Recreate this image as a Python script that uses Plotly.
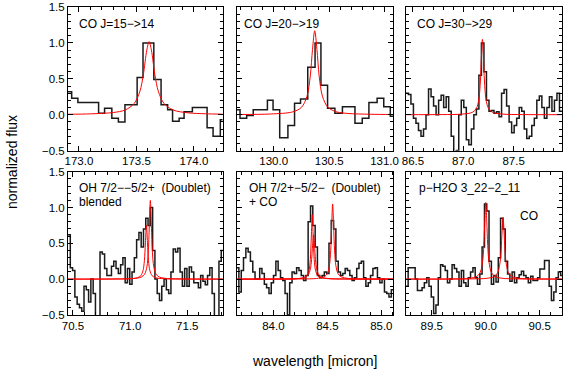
import plotly.graph_objects as go

# ---------------- data ----------------
p1_edges = [172.905, 172.937, 172.991, 173.171, 173.223, 173.286, 173.343, 173.400, 173.506, 173.557,
            173.651, 173.714, 173.771, 173.814, 173.871, 173.914, 173.986, 174.114, 174.166, 174.229, 174.25]
p1_vals = [0.32, 0.23, 0.17, 0.02, 0.09, -0.05, -0.10, 0.14, 0.52, 1.00,
           0.49, 0.14, 0.07, -0.09, -0.05, 0.04, 0.10, -0.18, -0.30, -0.07]
p1_fit_x = [172.905, 173.10, 173.30, 173.40, 173.48, 173.53, 173.56, 173.59, 173.61, 173.63, 173.66,
            173.69, 173.74, 173.82, 173.95, 174.10, 174.25]
p1_fit_y = [0.006, 0.012, 0.031, 0.065, 0.155, 0.327, 0.559, 0.90, 1.02, 0.90, 0.559,
            0.327, 0.155, 0.065, 0.026, 0.013, 0.0075]

p2_edges = [129.665, 129.696, 129.756, 129.815, 129.943, 129.994, 130.054, 130.128, 130.188, 130.242,
            130.307, 130.373, 130.426, 130.486, 130.552, 130.620, 130.733, 130.799, 130.859, 130.933,
            130.993, 131.052, 131.08]
p2_vals = [0.07, -0.05, -0.01, 0.07, 0.20, 0.07, -0.32, -0.15, 0.16, 0.22,
           0.66, 1.00, 0.41, 0.09, 0.02, 0.11, -0.12, -0.05, 0.17, 0.23, 0.11, -0.02]
p2_fit_x = [129.665, 129.97, 130.17, 130.25, 130.30, 130.33, 130.35, 130.37, 130.39, 130.41,
            130.44, 130.49, 130.57, 130.67, 130.87, 131.08]
p2_fit_y = [0.003, 0.01, 0.039, 0.102, 0.255, 0.54, 0.91, 1.17, 0.91, 0.54,
            0.255, 0.102, 0.039, 0.0175, 0.0064, 0.003]

p3_edges = [86.430, 86.455, 86.480, 86.505, 86.530, 86.555, 86.580, 86.605, 86.630, 86.655,
            86.680, 86.705, 86.730, 86.755, 86.780, 86.805, 86.830, 86.855, 86.880, 86.905,
            86.930, 86.955, 86.980, 87.005, 87.030, 87.055, 87.080, 87.105, 87.130, 87.155,
            87.180, 87.205, 87.230, 87.255, 87.280, 87.305, 87.330, 87.355, 87.380, 87.405,
            87.430, 87.455, 87.480, 87.505, 87.530, 87.555, 87.580, 87.605, 87.630, 87.655,
            87.680, 87.705, 87.730, 87.755, 87.780, 87.805, 87.830, 87.855, 87.880, 87.905,
            87.930, 87.955, 87.980]
p3_vals = [0.30, 0.28, 0.15, -0.05, -0.12, -0.22, -0.30, -0.20, 0.00, 0.36,
           0.25, 0.12, 0.00, 0.20, 0.27, 0.10, 0.25, 0.05, -0.30, -0.52,
           -0.50, 0.00, 0.20, 0.10, -0.35, -0.42, -0.20, 0.00, 0.08, 0.55,
           1.00, 0.60, 0.20, 0.05, 0.06, 0.02, 0.04, -0.03, 0.30, 0.35,
           0.12, -0.10, -0.25, -0.15, -0.05, 0.10, 0.05, -0.20, -0.33, -0.30,
           -0.15, -0.05, 0.20, 0.26, 0.10, -0.05, 0.10, 0.25, 0.05, 0.20,
           0.30, 0.05]
p3_fit_x = [86.43, 86.79, 86.99, 87.09, 87.13, 87.155, 87.17, 87.18, 87.19, 87.20, 87.21,
            87.225, 87.25, 87.29, 87.39, 87.59, 87.98]
p3_fit_y = [0.0006, 0.002, 0.0085, 0.033, 0.087, 0.22, 0.47, 0.80, 1.05, 0.80, 0.47,
            0.22, 0.087, 0.033, 0.0085, 0.002, 0.0005]

p4_edges = [70.457, 70.477, 70.497, 70.517, 70.537, 70.557, 70.577, 70.597, 70.617, 70.637,
            70.657, 70.677, 70.697, 70.717, 70.737, 70.757, 70.777, 70.797, 70.817, 70.837,
            70.857, 70.877, 70.897, 70.917, 70.937, 70.957, 70.977, 70.997, 71.017, 71.037,
            71.057, 71.077, 71.097, 71.117, 71.137, 71.157, 71.177, 71.197, 71.217, 71.237,
            71.257, 71.277, 71.297, 71.317, 71.337, 71.357, 71.377, 71.397, 71.417, 71.437,
            71.457, 71.477, 71.497, 71.517, 71.537, 71.557, 71.577, 71.597, 71.617, 71.637,
            71.657, 71.677, 71.697, 71.717, 71.737, 71.757, 71.777, 71.797, 71.817]
p4_vals = [0.62, 0.16, 0.12, -0.25, -0.35, -0.40, -0.45, -0.10, -0.15, -0.32,
           0.00, -0.20, -0.52, -0.52, 0.38, 0.35, 0.15, 0.05, 0.05, 0.18,
           0.25, 0.15, 0.08, 0.20, 0.30, -0.05, 0.15, -0.07, 0.10, 0.30,
           0.55, 0.65, 0.45, 0.70, 0.85, 0.75, 1.00, 0.40, 0.00, -0.20,
           -0.30, -0.10, 0.00, -0.15, -0.20, 0.10, 0.42, 0.38, 0.43, 0.10,
           -0.10, 0.15, -0.10, 0.17, 0.10, -0.05, -0.05, -0.12, 0.05, -0.03,
           -0.08, 0.05, 0.16, -0.20, -0.52, -0.52, 0.25, 0.40]
p4_fit1_x = [70.457, 70.843, 70.993, 71.063, 71.093, 71.113, 71.125, 71.134, 71.143, 71.152, 71.161,
             71.173, 71.193, 71.223, 71.293, 71.443, 71.817]
p4_fit1_y = [0.0003, 0.0014, 0.0056, 0.019, 0.047, 0.118, 0.257, 0.507, 0.75, 0.507, 0.257,
             0.118, 0.047, 0.019, 0.0056, 0.0014, 0.0003]
p4_fit2_x = [70.457, 70.877, 71.027, 71.097, 71.127, 71.147, 71.159, 71.168, 71.177, 71.186, 71.195,
             71.207, 71.227, 71.257, 71.327, 71.477, 71.817]
p4_fit2_y = [0.0004, 0.002, 0.0083, 0.028, 0.069, 0.173, 0.377, 0.744, 1.10, 0.744, 0.377,
             0.173, 0.069, 0.028, 0.0083, 0.002, 0.0005]

p5_edges = [83.659, 83.680, 83.702, 83.723, 83.745, 83.766, 83.787, 83.809, 83.830, 83.852,
            83.873, 83.894, 83.916, 83.937, 83.959, 83.980, 84.001, 84.023, 84.044, 84.066,
            84.087, 84.108, 84.130, 84.151, 84.173, 84.194, 84.215, 84.237, 84.258, 84.280,
            84.301, 84.322, 84.344, 84.365, 84.387, 84.408, 84.429, 84.451, 84.472, 84.494,
            84.515, 84.536, 84.558, 84.579, 84.601, 84.622, 84.643, 84.665, 84.686, 84.708,
            84.729, 84.750, 84.772, 84.793, 84.815, 84.836, 84.857, 84.879, 84.900, 84.922,
            84.943, 84.964, 84.986, 85.007, 85.029, 85.050, 85.071, 85.093, 85.114]
p5_vals = [0.16, -0.18, 0.12, 0.30, 0.43, 0.38, 0.25, 0.10, 0.00, 0.00,
           0.15, 0.08, -0.07, -0.12, -0.20, -0.05, 0.05, 0.25, 0.12, 0.02,
           -0.02, -0.20, -0.50, -0.05, 0.10, 0.08, 0.16, 0.12, 0.05, -0.02,
           0.05, 0.80, 1.02, 0.75, 0.45, 0.05, 0.02, 0.05, 0.10, 0.08,
           0.50, 0.82, 0.70, 0.25, 0.10, 0.05, 0.08, 0.15, 0.12, 0.05,
           -0.02, 0.02, 0.15, 0.22, 0.25, 0.02, -0.10, -0.05, 0.05, 0.15,
           0.16, 0.02, -0.05, 0.00, -0.18, -0.20, -0.25, -0.15]
p5_fit1_x = [83.659, 84.06, 84.21, 84.28, 84.31, 84.33, 84.342, 84.351, 84.360, 84.369, 84.378,
             84.39, 84.41, 84.44, 84.51, 84.66, 85.112]
p5_fit1_y = [0.0003, 0.0014, 0.0057, 0.020, 0.049, 0.124, 0.277, 0.576, 0.90, 0.576, 0.277,
             0.124, 0.049, 0.020, 0.0057, 0.0014, 0.0003]
p5_fit2_x = [83.659, 84.072, 84.222, 84.292, 84.322, 84.342, 84.354, 84.363, 84.372, 84.381, 84.39,
             84.402, 84.422, 84.452, 84.522, 84.672, 85.112]
p5_fit2_y = [0.0005, 0.0018, 0.007, 0.024, 0.058, 0.137, 0.274, 0.471, 0.62, 0.471, 0.274,
             0.137, 0.058, 0.024, 0.007, 0.0018, 0.0005]
p5_fit3_x = [83.659, 84.249, 84.399, 84.469, 84.499, 84.519, 84.531, 84.540, 84.549, 84.558, 84.567,
             84.579, 84.599, 84.629, 84.699, 84.849, 85.112]
p5_fit3_y = [0.0002, 0.0023, 0.009, 0.031, 0.076, 0.188, 0.396, 0.743, 1.05, 0.743, 0.396,
             0.188, 0.076, 0.031, 0.009, 0.0023, 0.0006]

p6_edges = [89.260, 89.281, 89.303, 89.324, 89.346, 89.367, 89.388, 89.410, 89.431, 89.453,
            89.474, 89.495, 89.517, 89.538, 89.560, 89.581, 89.602, 89.624, 89.645, 89.667,
            89.688, 89.709, 89.731, 89.752, 89.774, 89.795, 89.816, 89.838, 89.859, 89.881,
            89.902, 89.923, 89.945, 89.966, 89.988, 90.009, 90.030, 90.052, 90.073, 90.095,
            90.116, 90.137, 90.159, 90.180, 90.202, 90.223, 90.244, 90.266, 90.287, 90.309,
            90.330, 90.351, 90.373, 90.394, 90.416, 90.437, 90.458, 90.480, 90.501, 90.523,
            90.544, 90.565, 90.587, 90.608, 90.630, 90.651, 90.672, 90.694, 90.715]
p6_vals = [-0.10, 0.16, 0.16, 0.16, 0.00, -0.16, -0.16, -0.12, -0.05, 0.02,
           -0.10, -0.25, -0.48, -0.36, 0.02, 0.20, 0.18, 0.12, -0.05, 0.00,
           0.20, 0.15, 0.10, -0.10, 0.12, -0.05, -0.10, 0.02, 0.10, 0.16,
           0.02, -0.07, 0.07, 0.45, 1.05, 0.95, 0.25, -0.07, 0.05, -0.04,
           0.30, 0.85, 0.70, 0.25, 0.07, -0.03, 0.10, -0.05, 0.02, 0.06,
           0.11, 0.05, 0.02, -0.05, 0.04, -0.02, -0.02, 0.02, 0.14, 0.14,
           0.26, 0.26, -0.10, -0.30, -0.18, 0.02, 0.10, 0.05]
p6_fit1_x = [89.26, 89.70, 89.85, 89.92, 89.95, 89.97, 89.982, 89.991, 90.0, 90.009, 90.018,
             90.03, 90.05, 90.08, 90.15, 90.30, 90.715]
p6_fit1_y = [0.0005, 0.003, 0.012, 0.041, 0.099, 0.237, 0.472, 0.813, 1.07, 0.813, 0.472,
             0.237, 0.099, 0.041, 0.012, 0.003, 0.001]
p6_fit2_x = [89.26, 89.86, 90.01, 90.08, 90.11, 90.13, 90.142, 90.151, 90.16, 90.169, 90.178,
             90.19, 90.21, 90.24, 90.31, 90.46, 90.715]
p6_fit2_y = [0.0003, 0.0028, 0.011, 0.037, 0.089, 0.209, 0.405, 0.672, 0.86, 0.672, 0.405,
             0.209, 0.089, 0.037, 0.011, 0.0028, 0.001]

x_ranges = [[172.905, 174.25], [129.665, 131.08], [86.43, 87.98],
            [70.457, 71.81], [83.659, 85.112], [89.26, 90.706]]
y_range = [-0.501, 1.501]

panel_labels = [
    ["CO J=15\u2212>14"], ["CO J=20\u2212>19"], ["CO J=30\u2212>29"],
    ["OH 7/2\u2212\u22125/2+\u00a0 (Doublet)", "blended"],
    ["OH 7/2+\u22125/2\u2212\u00a0 (Doublet)", "+ CO"],
    ["p\u2212H2O 3_22\u22122_11"],
]
extra_label = "CO"
x_title = "wavelength [micron]"
y_title = "normalized flux"

# ---------------- layout geometry (pixels) ----------------
W, H = 568, 374
ML, MR, MT, MB = 68, 1, 2, 59
PW = W - ML - MR
PH = H - MT - MB
col_px = [(68.0, 224.3), (238.3, 396.7), (409.3, 567.0)]
row_px = [(2.0, 148.0), (169.3, 315.0)]


def px2x(px):
    return (px - ML) / PW


def py2y(py):
    return (H - MB - py) / PH


def clamp(v):
    return max(0.0, min(1.0, v))


FONT = "Liberation Sans, Arial, Helvetica, sans-serif"

fig = go.Figure()

hists = [(p1_edges, p1_vals), (p2_edges, p2_vals), (p3_edges, p3_vals),
         (p4_edges, p4_vals), (p5_edges, p5_vals), (p6_edges, p6_vals)]
fits = [
    [(p1_fit_x, p1_fit_y)],
    [(p2_fit_x, p2_fit_y)],
    [(p3_fit_x, p3_fit_y)],
    [(p4_fit1_x, p4_fit1_y), (p4_fit2_x, p4_fit2_y)],
    [(p5_fit1_x, p5_fit1_y), (p5_fit2_x, p5_fit2_y), (p5_fit3_x, p5_fit3_y)],
    [(p6_fit1_x, p6_fit1_y), (p6_fit2_x, p6_fit2_y)],
]

for i in range(6):
    sfx = "" if i == 0 else str(i + 1)
    edges, vals = hists[i]
    fig.add_trace(go.Scatter(x=edges, y=list(vals) + [vals[-1]], mode="lines",
                             line=dict(color="#1a1a1a", width=1.5, shape="hv"),
                             xaxis="x" + sfx, yaxis="y" + sfx, showlegend=False,
                             hoverinfo="skip"))
    for fx, fy in fits[i]:
        fig.add_trace(go.Scatter(x=fx, y=fy, mode="lines",
                                 line=dict(color="#ff0000", width=1, shape="spline", smoothing=0.9),
                                 xaxis="x" + sfx, yaxis="y" + sfx, showlegend=False,
                                 hoverinfo="skip"))

layout = dict(
    width=W, height=H,
    margin=dict(l=ML, r=MR, t=MT, b=MB),
    paper_bgcolor="white", plot_bgcolor="white",
    font=dict(family=FONT, size=12, color="black"),
    showlegend=False,
)

for i in range(6):
    r, c = divmod(i, 3)
    sfx = "" if i == 0 else str(i + 1)
    xd = [clamp(px2x(col_px[c][0])), clamp(px2x(col_px[c][1]))]
    yd = [clamp(py2y(row_px[r][1])), clamp(py2y(row_px[r][0]))]
    layout["xaxis" + sfx] = dict(
        domain=xd, range=x_ranges[i], anchor="y" + sfx,
        tick0=0, dtick=0.5, tickformat=".1f",
        ticks="inside", ticklen=5, tickwidth=1, tickcolor="black",
        minor=dict(dtick=0.1, ticks="inside", ticklen=3, tickwidth=1, tickcolor="black", showgrid=False),
        showline=True, linecolor="black", linewidth=1, mirror="ticks",
        showgrid=False, zeroline=False,
        tickfont=dict(family=FONT, size=11.5, color="black"),
    )
    layout["yaxis" + sfx] = dict(
        domain=yd, range=y_range, anchor="x" + sfx,
        tick0=0, dtick=0.5, tickformat=".1f",
        ticks="inside", ticklen=5, tickwidth=1, tickcolor="black",
        minor=dict(dtick=0.1, ticks="inside", ticklen=3, tickwidth=1, tickcolor="black", showgrid=False),
        showline=True, linecolor="black", linewidth=1, mirror="ticks",
        showgrid=False, zeroline=False, showticklabels=(c == 0),
        tickfont=dict(family=FONT, size=11.5, color="black"),
    )

fig.update_layout(**layout)

label_pos = [(77, 19), (244, 19), (419, 19), (77, 186), (249, 186), (421, 186)]
annotations = []
for i, lines in enumerate(panel_labels):
    x0, y0 = label_pos[i]
    for j, txt in enumerate(lines):
        annotations.append(dict(text=txt, x=px2x(x0), y=py2y(y0 + 14 * j), xref="paper", yref="paper",
                                xanchor="left", yanchor="middle", showarrow=False,
                                font=dict(family=FONT, size=12, color="black")))
annotations.append(dict(text=extra_label, x=px2x(523), y=py2y(214), xref="paper", yref="paper",
                        xanchor="left", yanchor="middle", showarrow=False,
                        font=dict(family=FONT, size=12, color="black")))
annotations.append(dict(text=x_title, x=px2x(317), y=py2y(362), xref="paper", yref="paper",
                        xanchor="center", yanchor="middle", showarrow=False,
                        font=dict(family=FONT, size=14, color="black")))
annotations.append(dict(text=y_title, x=px2x(12), y=py2y(160), xref="paper", yref="paper",
                        xanchor="center", yanchor="middle", showarrow=False, textangle=-90,
                        font=dict(family=FONT, size=14, color="black")))
fig.update_layout(annotations=annotations)

fig.write_html("out.html",
               config={"displayModeBar": False, "staticPlot": True},
               post_script="document.body.style.margin='0';document.body.style.overflow='hidden';")
